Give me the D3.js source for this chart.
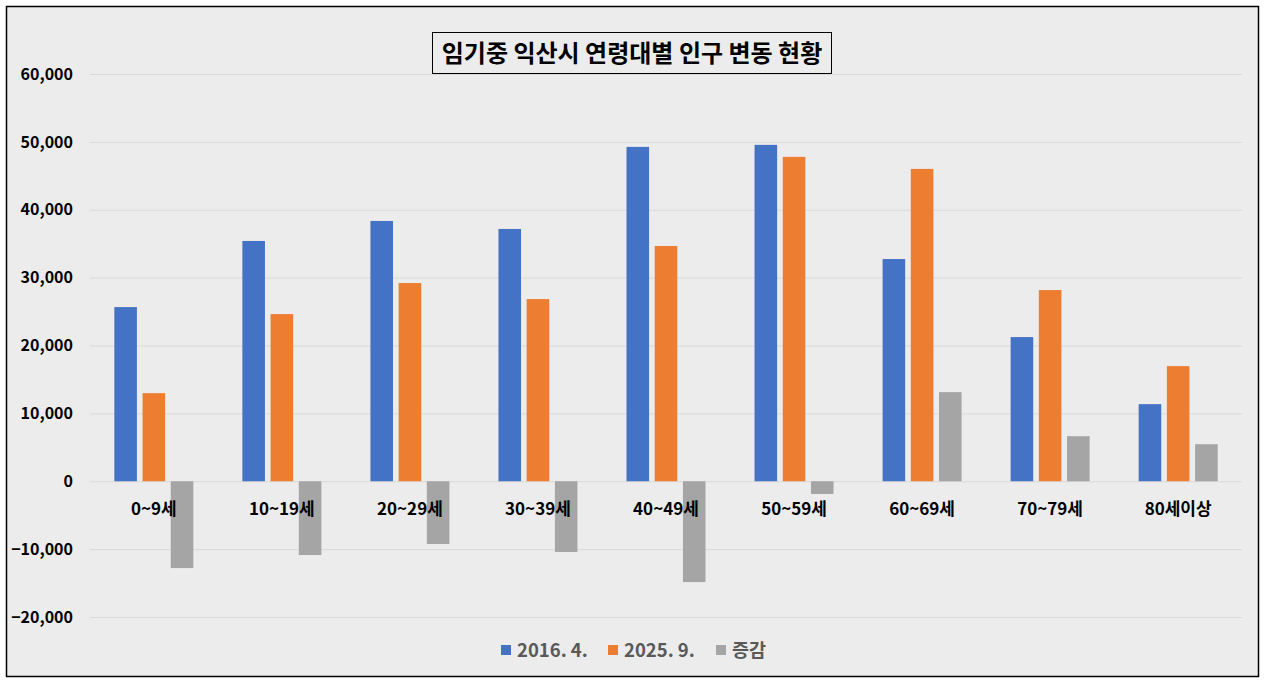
<!DOCTYPE html>
<html>
<head>
<meta charset="utf-8">
<script src="https://cdn.jsdelivr.net/npm/d3@7"></script>
<style>
  body { margin: 0; background: #fff; }
  text { font-family: "Noto Sans CJK KR", "Noto Sans", sans-serif; }
</style>
</head>
<body>
<div id="chart"></div>
<script>
// age groups and values
const ageGroups = ["0~9세", "10~19세", "20~29세", "30~39세", "40~49세", "50~59세", "60~69세", "70~79세", "80세이상"];
const seriesNames = ["2016. 4.", "2025. 9.", "증감"];
const pop2016 = [25660, 35400, 38350, 37170, 49260, 49560, 32740, 21240, 11360];
const pop2025 = [12980, 24630, 29200, 26840, 34660, 47790, 46020, 28170, 16960];
const change = [-12790, -10870, -9240, -10420, -14850, -1870, 13130, 6640, 5460];
const yTicks = [-20000, -10000, 0, 10000, 20000, 30000, 40000, 50000, 60000];
const colors = ["#4472c4", "#ed7d31", "#a5a5a5"];

const W = 1265, H = 683;
const margin = { top: 74, right: 23, bottom: 66, left: 90 };

const svg = d3.select("#chart").append("svg")
    .attr("width", W)
    .attr("height", H);

svg.append("rect")
    .attr("x", 6.5).attr("y", 6.5)
    .attr("width", 1252).attr("height", 670)
    .attr("fill", "#ececec")
    .attr("stroke", "#000")
    .attr("stroke-width", 1.5);

let x0 = d3.scaleBand().domain(ageGroups)
    .range([margin.left, W - margin.right])
    .paddingInner(0.383).paddingOuter(0.19);
let x1 = d3.scaleBand().domain(seriesNames)
    .range([0, x0.bandwidth()])
    .paddingInner(0.2);
let y = d3.scaleLinear().domain([-20000, 60000])
    .range([H - margin.bottom, margin.top]);

// gridlines + y labels
let yAxis = d3.axisLeft(y).tickValues(yTicks)
    .tickSize(-(W - margin.left - margin.right))
    .tickPadding(17)
    .tickFormat(d3.format(","));
let gy = svg.append("g")
    .attr("transform", "translate(" + margin.left + ",0)")
    .call(yAxis);
gy.select(".domain").remove();
gy.selectAll(".tick line").attr("stroke", "#d9d9d9").attr("stroke-width", 1);
gy.selectAll(".tick text")
    .attr("fill", "#000")
    .attr("font-size", 16)
    .attr("font-weight", "bold")
    .style("font-family", "'Noto Sans CJK KR', sans-serif");

// bars
let rows = ageGroups.map((g, i) => ({ group: g, vals: [pop2016[i], pop2025[i], change[i]] }));
let groups = svg.selectAll(".grp")
    .data(rows)
    .enter().append("g")
    .attr("class", "grp")
    .attr("transform", d => "translate(" + x0(d.group) + ",0)");

groups.selectAll("rect")
    .data(d => d.vals.map((v, k) => ({ key: seriesNames[k], v: v, k: k })))
    .enter().append("rect")
    .attr("x", d => x1(d.key))
    .attr("width", x1.bandwidth())
    .attr("y", d => y(Math.max(0, d.v)))
    .attr("height", d => Math.abs(y(d.v) - y(0)))
    .attr("fill", d => colors[d.k]);

// category labels
svg.selectAll(".catLabel")
    .data(ageGroups)
    .enter().append("text")
    .attr("class", "catLabel")
    .attr("x", d => x0(d) + x0.bandwidth() / 2)
    .attr("y", y(0) + 34)
    .attr("text-anchor", "middle")
    .attr("font-size", 17)
    .attr("font-weight", "bold")
    .attr("fill", "#000")
    .text(d => d);

// title
svg.append("rect")
    .attr("x", 432.5).attr("y", 32.5)
    .attr("width", 399).attr("height", 41)
    .attr("fill", "#ececec")
    .attr("stroke", "#000")
    .attr("stroke-width", 1);
svg.append("text")
    .attr("x", 632)
    .attr("y", 62)
    .attr("text-anchor", "middle")
    .attr("font-size", 24)
    .attr("font-weight", "bold")
    .attr("fill", "#000")
    .text("임기중 익산시 연령대별 인구 변동 현황");

// legend
const legendX = [501, 608, 716];
let lg = svg.selectAll(".legend")
    .data(seriesNames)
    .enter().append("g")
    .attr("class", "legend")
    .attr("transform", (d, i) => "translate(" + legendX[i] + ",645)");
lg.append("rect")
    .attr("width", 10).attr("height", 10)
    .attr("fill", (d, i) => colors[i]);
lg.append("text")
    .attr("x", 16)
    .attr("y", 12)
    .attr("font-size", 18.5)
    .attr("font-weight", "bold")
    .attr("fill", "#595959")
    .text(d => d);
</script>
</body>
</html>
